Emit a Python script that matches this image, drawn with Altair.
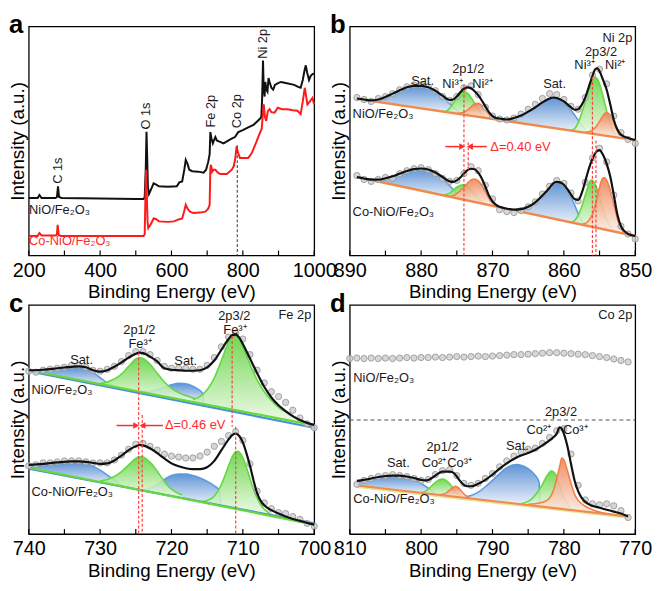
import altair as alt
import pandas as pd

FONT = "Liberation Sans"
W, H = 289, 232
YMAX = 235
INK = "#1a1a1a"
RED = "#ff2a2a"

# ================= (a) survey =================
a_ticks = [200, 300, 400, 500, 600, 700, 800, 900, 1000]
a_labels = [200, 400, 600, 800, 1000]
a_black = [[200,59],[225,59],[230,62],[236,59],[275,59],[279,60],[282,71],[285,60],[292,59],[400,58.5],[500,58],[522,58],[525,60],[528,90],[530,127],[532,100],[534,70],[537,63],[543,68],[550,74],[556,73],[565,71],[590,70.5],[615,71],[622,75],[630,76],[636,88],[640,98],[645,94],[650,88],[658,86.5],[675,86],[690,85],[697,88],[703,96],[707,104],[709,126.5],[712,120],[716,115],[719,118],[723,121.5],[727,118],[733,117],[746,115],[760,118],[770,120],[778,121.5],[787,126.5],[800,128.5],[815,131.5],[830,134],[843,138.5],[850,141],[852,143],[854,160],[856.5,200],[858.5,172],[861,163],[863,178],[866,170],[869,168],[872,182],[875,178],[880,172],[885,170],[890,175],[900,177],[907,178],[920,177],[944,175],[955,173],[962,172],[968,180],[973,190],[976.5,195],[980,188],[985.5,180],[990,184],[995,186],[1000,186.5]]
a_red = [[200,20],[225,20],[230,23],[236,20.5],[276,20.5],[279,22],[281,31.5],[284,21],[290,20],[400,20],[500,20],[522,20],[525,22],[527,60],[529,88],[531,60],[533,35],[535,28],[542,32],[550,38],[556,37.5],[565,35],[590,34.5],[607,35],[620,37],[630,38],[636,46],[640,52],[645,48],[652,45],[662,43.5],[680,44],[695,45],[703,48],[707,52],[709,90],[711,93],[714,86],[718,88],[723,88],[730,85],[737,83.5],[755,83.5],[769,88],[775,92],[779,100],[782.5,112],[786,106],[792,100],[800,100],[815,100],[825,105],[838,116.5],[847,125],[853,130],[855,140],[858.5,155],[862,142],[865.5,138],[870,148],[875,150],[880,147],[889,146.5],[898,151.5],[910,150],[926,150],[940,149],[953,148.5],[962,145],[968,158],[973.5,172],[978,162],[981,155],[988,158],[995,161.5],[1000,155]]
a_peak_text = ["C 1s", "O 1s", "Fe 2p", "Co 2p", "Ni 2p"]
a_peak_x = [281, 530, 710, 784.5, 856.5]
a_peak_y = [87, 143, 148, 148, 217]
a_dash = [[784.5, 113, 0]]
a_left_text = ["NiO/Fe₂O₃", "Co-NiO/Fe₂O₃"]
a_left_x = [201, 201]
a_left_y = [47, 15]
a_left_color = [INK, RED]

# ================= (b) Ni 2p =================
b_ticks = [890, 885, 880, 875, 870, 865, 860, 855, 850]
b_labels = [890, 880, 870, 860, 850]
b_top_base = [[889, 160.7], [850, 118.3]]
b_bot_base = [[889, 80.5], [850, 20]]
b_top_blue1 = [[887,158.5,158.5],[886,159,157.4],[885,162,156.3],[884,165.5,155.3],[883,169,154.2],[882,172,153.1],[881,173.5,152.0],[880,173.5,150.9],[879,172,149.8],[878,168.5,148.7],[877,163,147.6],[876,156,146.6],[875,149,145.5],[874.5,145,144.9]]
b_top_green1 = [[877,147.7,147.6],[876.5,148,147.1],[876,151,146.6],[875.5,156,146.0],[875,162,145.5],[874.5,166.5,144.9],[874,168,144.4],[873.5,166.5,143.9],[873,162,143.3],[872.5,156,142.8],[872,150,142.2],[871.5,145,141.7],[871,141.5,141.1]]
b_top_orange1 = [[875,145.5,145.5],[874,147,144.4],[873.5,149,143.9],[873,152.5,143.3],[872.5,155.5,142.8],[872,156,142.2],[871.5,154,141.7],[871,150,141.1],[870.5,145,140.6],[870,141.5,140.0],[869.5,139.5,139.5]]
b_top_blue2 = [[869,139,138.9],[868,139.5,137.9],[867,141,136.8],[866,143.5,135.7],[865,147.5,134.6],[864,152,133.5],[863,157,132.4],[862,161,131.3],[861.5,162,130.8],[861,161.5,130.3],[860,157.5,129.2],[859,149,128.1],[858,139,127.0],[857.5,134,126.5],[857,129,125.9]]
b_top_green2 = [[859,128.5,128.1],[858.5,130,127.5],[858,136,127.0],[857.5,146,126.5],[857,158,125.9],[856.5,170,125.4],[856,179,124.8],[855.7,183,124.5],[855.3,181,124.1],[855,176,123.7],[854.5,163,123.2],[854,148,122.7],[853.5,135,122.1],[853,126,121.6],[852.5,122,121.0]]
b_top_orange2 = [[857,126.5,125.9],[856.5,127,125.4],[856,128.5,124.8],[855.5,132,124.3],[855,137.5,123.7],[854.5,143.5,123.2],[854,146.5,122.7],[853.5,144,122.1],[853,138,121.6],[852.5,130,121.0],[852,124.5,120.5],[851.5,121,119.9]]
b_bot_blue1 = [[886.5,76.8,76.6],[886,77.5,75.8],[885,79,74.3],[884,81,72.7],[883,84,71.2],[882,86.5,69.6],[881,88.5,68.1],[880,89,66.5],[879,88,65.0],[878,85,63.4],[877,79.5,61.9],[876,71.5,60.3],[875,64,58.8],[874.5,60,58.0],[874,57.2,57.2]]
b_bot_green1 = [[877,62,61.9],[876.5,62.5,61.1],[876,64,60.3],[875.5,67,59.5],[875,70,58.8],[874.5,72,58.0],[874,72.5,57.2],[873.5,71,56.4],[873,67.5,55.7],[872.5,63,54.9],[872,58.5,54.1],[871.5,55,53.3],[871,52.8,52.6]]
b_bot_orange1 = [[876,60.5,60.3],[875.5,61.5,59.5],[875,63.5,58.8],[874.5,66.5,58.0],[874,70,57.2],[873.5,74,56.4],[873,77.5,55.7],[872.5,78.5,54.9],[872,76.5,54.1],[871.5,72,53.3],[871,65.5,52.6],[870.5,58.5,51.8],[870,53.5,51.0],[869.5,50.5,50.2]]
b_bot_blue2 = [[867,46.5,46.4],[866,47,44.8],[865,49.5,43.3],[864,54,41.7],[863,61,40.2],[862,69,38.6],[861.5,73.5,37.8],[861,75,37.1],[860.5,74.5,36.3],[860,72,35.5],[859.5,67,34.7],[859,60,34.0],[858.5,52,33.2],[858,43,32.4],[857.5,36,31.6],[857,32,30.9]]
b_bot_green2 = [[859,34.2,34.0],[858.5,36,33.2],[858,41,32.4],[857.5,50,31.6],[857,62,30.9],[856.5,73,30.1],[856.2,77.5,29.6],[856,77,29.3],[855.5,71,28.5],[855,60,27.8],[854.5,47,27.0],[854,37,26.2],[853.5,30,25.4],[853,25.5,24.7]]
b_bot_orange2 = [[857.5,31.8,31.6],[857,33,30.9],[856.5,36,30.1],[856,42,29.3],[855.5,54,28.5],[855,70,27.8],[854.6,79,27.1],[854.3,80,26.7],[854,77,26.2],[853.5,67,25.4],[853,53,24.7],[852.5,38,23.9],[852,28,23.1],[851.5,23,22.3]]
b_top_fit = [[889,161],[888,160],[887,159],[886,160],[885,162.5],[884,166],[883,169.5],[882,172.5],[881,174],[880,174],[879,172.5],[878,169],[877,164],[876,159.5],[875.5,160],[875,163],[874.5,167.5],[874,171],[873.5,172.5],[873,171.5],[872.5,168.5],[872,164.5],[871.5,159],[871,153],[870.5,147],[870,143],[869.5,141],[869,140.5],[868,139.5],[867,141],[866,143.5],[865,147.5],[864,152],[863,157],[862,161],[861.5,162],[861,161.5],[860,158],[859,152],[858.5,149.5],[858,150],[857.5,154.5],[857,162],[856.5,173],[856,184],[855.6,191],[855.3,192],[855,189],[854.5,180],[854,170],[853.5,155],[853,139],[852.5,129],[852,124],[851,120.5],[850,118.5]]
b_bot_fit = [[889,80.5],[888,79],[887,77.8],[886,77.8],[885,79.2],[884,81.2],[883,84],[882,86.6],[881,88.6],[880,89.2],[879,88.2],[878,85.2],[877,80.5],[876,76],[875.5,75.5],[875,77],[874.5,80],[874,84],[873.5,87.5],[873,89],[872.5,88.5],[872,85],[871.5,79],[871,70.5],[870.5,61.5],[870,55.5],[869.5,52],[869,50],[868,48],[867,47],[866,47.5],[865,50],[864,54.5],[863,61.5],[862,69.5],[861.5,74],[861,75.5],[860.5,75],[860,72.5],[859.5,68],[859,62.5],[858.5,58],[858,57],[857.5,64],[857,76],[856.5,89],[856,99],[855.5,106],[855,108],[854.5,103],[854,94],[853.5,81],[853,62],[852.5,42],[852,30],[851.5,25],[851,22],[850,20]]
b_data_x = list(range(889, 849, -1))
b_top_data = [162,160,158,161,163,166,170,173,175,175,173,169,163,159,163,172,174,165,152,143,140,139,141,145,150,155,161,166,165,160,153,150,162,185,191,176,143,126,119,115]
b_bot_data = [82,78,76,78,80,79,84,87,89,90,88,84,79,76,77,84,91,87,72,58,47,45,44,46,50,55,63,71,77,74,64,56,75,100,110,96,62,30,22,17]
b_dash = [[874.0,175,0],[873.4,116,88],[856.0,183,0],[855.5,118,0]]
b_arrows = [[876.6,874.3,111.7],[870.8,873.1,111.7]]
b_heads = [[874.25,111.7,"triangle-right"],[873.15,111.7,"triangle-left"]]
b_center = [["Sat.",879.8,179],["2p1/2",873.4,191.5],["Ni³⁺",875.6,175.5],["Ni²⁺",871.4,175.5],["Sat.",861.3,176],["2p3/2",854.8,209],["Ni³⁺",857.1,195],["Ni²⁺",852.8,195]]
b_left = [["NiO/Fe₂O₃",889.6,145,INK],["Co-NiO/Fe₂O₃",889.6,45,INK],["Δ=0.40 eV",870.3,111.7,RED]]
b_right = [["Ni 2p",850.4,223]]

# ================= (c) Fe 2p =================
c_ticks = [740, 735, 730, 725, 720, 715, 710, 705, 700]
c_labels = [740, 730, 720, 710, 700]
c_top_green_base = [[740,168],[700,111.5]]
c_top_blue_base = [[740,167],[700,109]]
c_bot_green_base = [[740,68],[700,9.7]]
c_bot_blue_base = [[740,67],[700,11]]
c_top_blue1 = [[740,168.5,168],[738,168.5,165.2],[736,169.5,162.4],[734,170.5,159.5],[733,170.5,158.1],[732,169,156.7],[731,165.5,155.3],[730,160.5,153.9],[729,155,152.5],[728,151.5,151.1]]
c_top_green1 = [[730,154.5,153.9],[729,156,152.5],[728,159,151.1],[727,164,149.6],[726,172,148.2],[725,179.5,146.8],[724.5,181,146.1],[724,180,145.4],[723,174,144.0],[722,165,142.6],[721,156,141.2],[720,149.5,139.8],[719,145,138.3],[718,142,136.9],[717,139.5,135.5],[716,137.5,134.1]]
c_top_blue2 = [[724,146,145.4],[723,146.5,144.0],[722,148,142.6],[721,150.5,141.2],[720,153,139.8],[719,154.5,138.3],[718,154,136.9],[717,151.5,135.5],[716,147,134.1],[715.6,144,133.5],[715.5,133.4,133.4]]
c_top_green2 = [[717,138,135.5],[716,141,134.1],[715,148,132.7],[714,160,131.3],[713,178,129.9],[712,197,128.5],[711.5,203,127.8],[711,203.5,127.0],[710.5,200,126.3],[710,192,125.6],[709,174,124.2],[708,158,122.8],[707,146,121.4],[706,137,120.0],[705,130,118.6],[704,125,117.2],[703,120.5,115.7],[702,117,114.3],[701,114,112.9],[700,112,111.5]]
c_bot_blue1 = [[740,68.5,68.0],[738,70,65.1],[736,71.5,62.2],[734,73,59.3],[733,73,57.8],[732,72,56.3],[731,69.5,54.9],[730,65.5,53.4],[729,60.5,52.0],[728,55.5,50.5],[727,50,49.1]]
c_bot_green1 = [[730,54.5,53.4],[729,56,52.0],[728,59,50.5],[727,64,49.1],[726,71,47.6],[725,77.5,46.1],[724.5,79.5,45.4],[724,79,44.7],[723,73.5,43.2],[722,64.5,41.8],[721,54,40.3],[720,46,38.9],[719,41.5,37.4],[718.5,40,36.7]]
c_bot_blue2 = [[724,45,44.7],[723,47,43.2],[722,51,41.8],[721,56,40.3],[720,60,38.9],[719,61.5,37.4],[718,61.5,35.9],[717,60,34.5],[716,57.5,33.0],[715,54,31.6],[714,49.5,30.1],[713.3,45,29.1],[713.1,29,28.8]]
c_bot_green2 = [[716,33.2,33.0],[715,34.5,31.6],[714.5,36,30.8],[714,39,30.1],[713.5,44,29.4],[713,51,28.6],[712.5,60,27.9],[712,70,27.2],[711.5,79,26.5],[711,84.5,25.7],[710.7,85,25.3],[710.5,84,25.0],[710,78.5,24.3],[709.5,68.5,23.5],[709,57,22.8],[708.5,46,22.1],[708,37,21.4],[707.5,30,20.6],[707,25.5,19.9],[706.5,22.5,19.2],[706,20,18.4],[705,17.5,17.0]]
c_top_fit = [[740,168],[738,168.5],[736,170],[734,171.5],[733,172],[732,171],[731,168],[730,166.5],[729,168],[728,171.5],[727,176],[726,181],[725,185],[724.5,186],[724,185.5],[723,182],[722,177],[721,170],[720,168.5],[719,168],[718,167.5],[717,167.5],[716,168],[715,171],[714,178],[713,189],[712,200],[711.5,204],[711,204.5],[710.5,201.5],[710,195],[709,180],[708,165],[707,151],[706,140],[705,132],[704,126],[703,121],[702,117],[701,114],[700,112]]
c_bot_fit = [[740,71],[738,72],[736,73.5],[734,74.5],[733,74.5],[732,74],[731,73],[730,72],[729,72.5],[728,75.5],[727,80.5],[726,86],[725,90],[724.5,91.3],[724,91],[723,88],[722,83],[721,77.5],[720,72.5],[719,69.5],[718,67.5],[717,66.5],[716,66.5],[715,68.5],[714,75],[713,86],[712,97],[711.5,101.5],[711,103],[710.5,100.5],[710,94],[709.5,83],[709,70],[708.5,55],[708,42],[707.5,34],[707,29.5],[706,24.5],[705,21],[704,18],[703,15.5],[702,13.5],[701,11.5],[700,9.7]]
c_data_x = list(range(740, 699, -1))
c_top_data = [167,166,168,169,170,171,173,173,171,168,167,169,172,177,183,187,187,184,178,172,170,170,170,169,169,173,181,192,202,206,200,184,168,155,146,141,135,127,119,113,109]
c_bot_data = [70,71,73,73,74,75,75,75,74,73,73,73,76,81,87,92,93,90,86,82,80,79,78,78,80,84,90,95,101,105,96,72,44,32,26,22,21,18,15,11,8]
c_dash = [[724.6,186,0],[724.1,122,0],[711.5,203,110],[711.0,110,0]]
c_arrows = [[727.7,725.0,111.3],[721.2,724.0,111.3]]
c_heads = [[724.95,111.3,"triangle-right"],[724.05,111.3,"triangle-left"]]
c_center = [["2p3/2",711.2,224],["Fe³⁺",711.1,209.5],["2p1/2",724.5,209.5],["Fe³⁺",724.4,194.5],["Sat.",732.6,178],["Sat.",718.0,177.5]]
c_left = [["NiO/Fe₂O₃",739.6,148,INK],["Co-NiO/Fe₂O₃",739.6,43,INK],["Δ=0.46 eV",720.9,111.3,RED]]
c_right = [["Fe 2p",700.4,224.5]]

# ================= (d) Co 2p =================
d_ticks = [810, 805, 800, 795, 790, 785, 780, 775, 770]
d_labels = [810, 800, 790, 780, 770]
d_base = [[809,49.8],[771,18]]
d_base2 = [[809,48.3],[771,16.6]]
d_blue1 = [[809,54,49.8],[808,55,48.9],[807,56.5,48.1],[806,58,47.3],[805,59,46.4],[804,59.5,45.6],[803,59.5,44.8],[802,58.5,43.9],[801,56,43.1],[800,52,42.2],[799,47,41.4],[798.5,44,41.0],[798,40.6,40.6]]
d_green1 = [[800,42.5,42.2],[799.5,43.5,41.8],[799,46,41.4],[798.5,49.5,41.0],[798,53,40.6],[797.5,55.5,40.2],[797,56.3,39.7],[796.5,55,39.3],[796,51.5,38.9],[795.5,46.5,38.5],[795,42,38.1],[794.5,39,37.6],[794,37.3,37.2]]
d_orange1 = [[797.5,40.3,40.2],[797,40.8,39.7],[796.5,42,39.3],[796,45,38.9],[795.5,48,38.5],[795.2,49,38.2],[795,48.5,38.1],[794.5,45.5,37.6],[794,41,37.2],[793.5,38,36.8],[793,36.5,36.4]]
d_blue2 = [[794,38,37.2],[793,39.5,36.4],[792,43,35.6],[791,48.5,34.7],[790,55,33.9],[789,62,33.0],[788,68,32.2],[787,71,31.4],[786.5,71.3,31.0],[786,70.5,30.5],[785,67,29.7],[784,60,28.9],[783.5,54,28.4],[783.3,28.3,28.3]]
d_green2 = [[786,31,30.5],[785,33.5,29.7],[784.5,36,29.3],[784,40,28.9],[783.5,45,28.4],[783,51,28.0],[782.5,58,27.6],[782,63.5,27.2],[781.7,64.7,26.9],[781.5,64,26.8],[781,59,26.4],[780.5,48,25.9],[780,38,25.5],[779.5,31,25.1],[779,26,24.7]]
d_orange2 = [[785,30.5,29.7],[784,31,28.9],[783,32.5,28.0],[782.5,34,27.6],[782,37,27.2],[781.5,44,26.8],[781,57,26.4],[780.5,72,25.9],[780.3,78,25.8],[780,76,25.5],[779.5,65,25.1],[779,52,24.7],[778.5,41,24.3],[778,34.5,23.9],[777,28.5,23.0],[776,25,22.2],[775,22.5,21.3],[774,21,20.5],[773,20,19.7],[772,19,18.8],[771,18.2,18.0]]
d_fit = [[809,54.5],[808,55.5],[807,57],[806,58.5],[805,59.5],[804,60],[803,60],[802,59],[801,57.5],[800,55.5],[799.5,55],[799,55.5],[798.5,57.5],[798,60],[797.5,62.5],[797,64],[796.5,64],[796,64],[795.5,63],[795,59],[794.5,54],[794,50.5],[793.5,49],[793,49],[792,51.5],[791,55.5],[790,61],[789,67],[788,72.5],[787,77],[786,80.5],[785,83],[784,86.5],[783,91],[782,96],[781.5,99],[781,103],[780.6,109.5],[780.3,108],[780,103],[779.5,90],[779,72],[778.5,55],[778,44],[777.5,37],[777,33],[776,29],[775,27],[774,25],[773,23],[772,21],[771,18]]
d_top_x = list(range(810, 770, -1))
d_top_data = [180,180.5,180,180.5,180,180.5,180,180.5,181,180.5,181,181,181.5,181,181.5,182,181.5,182,182.5,182,182.5,183,183.5,184,184,184.5,185,185.5,186,186,185.5,185,184.5,184,183,182,181,179.5,178,176.5]
d_bot_x = list(range(809, 770, -1))
d_bot_data = [51,55,57,59,60,61,60,59,57,55,56,61,65,66,60,52,50,52,57,62,69,75,80,84,87,88,93,99,106,108,82,50,35,31,30,31,29,24,17]
d_hline = [[810, 770, 117]]
d_center = [["2p3/2",780.4,125],["Co²⁺",783.5,106.5],["Co³⁺",778.4,106.5],["Sat.",786.5,90],["2p1/2",797.0,89.7],["Co²⁺",798.2,73],["Co³⁺",794.6,73],["Sat.",803.2,73]]
d_left = [["NiO/Fe₂O₃",809.5,159.7,INK],["Co-NiO/Fe₂O₃",809.5,36.3,INK]]
d_right = [["Co 2p",770.4,224.7]]

# ================= styling =================
BLUE = ("#4b86cf", "#eef3fb", "#5b9be0")
GREEN = ("#5fd23c", "#f1fbec", "#62d940")
ORANGE = ("#f07f4f", "#fdf0ea", "#f28048")
BASE_OR = "#f08a4b"


def make_panel(dom, ticks, labels, letter):
    xsc = alt.Scale(domain=dom, nice=False, zero=False)
    ysc = alt.Scale(domain=[0, YMAX], nice=False, zero=False)
    xax = alt.Axis(values=labels, title="Binding Energy (eV)", tickSize=0, labelPadding=5,
                   titlePadding=3, domain=False, grid=False, format="d", labelOverlap=False,
                   labelFlush=False, labelFontSize=20, titleFontSize=19, labelFont=FONT,
                   titleFont=FONT, titleFontWeight="normal", labelColor="black", titleColor="black")
    yax = alt.Axis(title="Intensity (a.u.)", labels=False, ticks=False, domain=False, grid=False,
                   titlePadding=1, minExtent=0, titleFontSize=19, titleFont=FONT,
                   titleFontWeight="normal", titleColor="black")

    def X(f):
        return alt.X(f, type="quantitative", scale=xsc, axis=xax)

    def Y(f):
        return alt.Y(f, type="quantitative", scale=ysc, axis=yax)

    layers = []

    def area(rows, col):
        df = pd.DataFrame(rows, columns=["x", "y", "y2"])
        grad = alt.Gradient(gradient="linear",
                            stops=[alt.GradientStop(color=col[1], offset=0),
                                   alt.GradientStop(color=col[0], offset=1)],
                            x1=1, x2=1, y1=1, y2=0)
        layers.append(alt.Chart(df).mark_area(interpolate="monotone", color=grad, fillOpacity=0.88,
                                              line=alt.OverlayMarkDef(color=col[2], strokeWidth=1.6))
                      .encode(x=X("x"), y=Y("y"), y2="y2"))

    def line(rows, color, width, interp="monotone"):
        df = pd.DataFrame(rows, columns=["x", "y"])
        layers.append(alt.Chart(df).mark_line(color=color, strokeWidth=width, interpolate=interp)
                      .encode(x=X("x"), y=Y("y")))

    def dots(xs, ys):
        df = pd.DataFrame({"x": xs, "y": ys})
        layers.append(alt.Chart(df).mark_point(shape="circle", filled=True, size=40, fill="#cdcdcd",
                                               stroke="#999999", strokeWidth=0.9, opacity=1,
                                               fillOpacity=0.8)
                      .encode(x=X("x"), y=Y("y")))

    def vdash(rows, color, dash=(3, 2)):
        df = pd.DataFrame(rows, columns=["x", "y", "y2"])
        layers.append(alt.Chart(df).mark_rule(color=color, strokeWidth=1.2, strokeDash=list(dash))
                      .encode(x=X("x"), y=Y("y"), y2="y2"))

    def hdash(rows, color, dash=(4, 3)):
        df = pd.DataFrame(rows, columns=["x", "x2", "y"])
        layers.append(alt.Chart(df).mark_rule(color=color, strokeWidth=1.1, strokeDash=list(dash))
                      .encode(x=X("x"), x2="x2", y=Y("y")))

    def arrows(rows, heads):
        df = pd.DataFrame(rows, columns=["x", "x2", "y"])
        layers.append(alt.Chart(df).mark_rule(color=RED, strokeWidth=1.5)
                      .encode(x=X("x"), x2="x2", y=Y("y")))
        dh = pd.DataFrame(heads, columns=["x", "y", "s"])
        layers.append(alt.Chart(dh).mark_point(filled=True, size=45, color=RED, opacity=1)
                      .encode(x=X("x"), y=Y("y"), shape=alt.Shape("s:N", scale=None)))

    def texts(rows, align, size=13, angle=None, with_color=False):
        cols = ["t", "x", "y", "c"] if with_color else ["t", "x", "y"]
        df = pd.DataFrame(rows, columns=cols)
        kw = dict(font=FONT, fontSize=size, align=align, baseline="middle", color=INK)
        if angle is not None:
            kw["angle"] = angle
        enc = dict(x=X("x"), y=Y("y"), text="t:N")
        if with_color:
            enc["color"] = alt.Color("c:N", scale=None)
        layers.append(alt.Chart(df).mark_text(**kw).encode(**enc))

    def finish():
        df = pd.DataFrame({"x": ticks})
        layers.append(alt.Chart(df).mark_rule(color="black", strokeWidth=1.2)
                      .encode(x=X("x"), y=alt.value(H), y2=alt.value(H - 5)))
        layers.append(alt.Chart(pd.DataFrame({"t": [letter]}))
                      .mark_text(font=FONT, fontSize=26, fontWeight="bold", align="left",
                                 baseline="alphabetic", color="black")
                      .encode(x=alt.value(-20), y=alt.value(7), text="t:N"))
        return alt.layer(*layers).properties(width=W, height=H)

    return dict(area=area, line=line, dots=dots, vdash=vdash, hdash=hdash, arrows=arrows,
                texts=texts, finish=finish)


# ---- panel a ----
f = make_panel([200, 1000], a_ticks, a_labels, "a")
f["line"](a_black, "#111111", 2.0, interp="linear")
f["line"](a_red, "#ff1a1a", 2.0, interp="linear")
f["vdash"](a_dash, "#555555")
f["texts"]([[t, x, y] for t, x, y in zip(a_peak_text, a_peak_x, a_peak_y)], "center", angle=270)
f["texts"]([[t, x, y, c] for t, x, y, c in zip(a_left_text, a_left_x, a_left_y, a_left_color)], "left",
           with_color=True)
panel_a = f["finish"]()

# ---- panel b ----
f = make_panel([890, 850], b_ticks, b_labels, "b")
for rows, col in [(b_top_blue1, BLUE), (b_top_blue2, BLUE), (b_top_green1, GREEN), (b_top_green2, GREEN),
                  (b_top_orange1, ORANGE), (b_top_orange2, ORANGE),
                  (b_bot_blue1, BLUE), (b_bot_blue2, BLUE), (b_bot_green1, GREEN), (b_bot_green2, GREEN),
                  (b_bot_orange1, ORANGE), (b_bot_orange2, ORANGE)]:
    f["area"](rows, col)
f["line"](b_top_base, BASE_OR, 2.4, interp="linear")
f["line"](b_bot_base, BASE_OR, 2.4, interp="linear")
f["dots"](b_data_x, b_top_data)
f["dots"](b_data_x, b_bot_data)
f["line"](b_top_fit, "#111111", 2.2)
f["line"](b_bot_fit, "#111111", 2.2)
f["vdash"](b_dash, "#ff4040")
f["arrows"](b_arrows, b_heads)
f["texts"](b_center, "center")
f["texts"](b_left, "left", with_color=True)
f["texts"](b_right, "right")
panel_b = f["finish"]()

# ---- panel c ----
f = make_panel([740, 700], c_ticks, c_labels, "c")
for rows, col in [(c_top_blue1, BLUE), (c_top_blue2, BLUE), (c_top_green1, GREEN), (c_top_green2, GREEN),
                  (c_bot_blue1, BLUE), (c_bot_blue2, BLUE), (c_bot_green1, GREEN), (c_bot_green2, GREEN)]:
    f["area"](rows, col)
f["line"](c_top_blue_base, "#4a90d9", 2.2, interp="linear")
f["line"](c_top_green_base, "#66d93a", 2.2, interp="linear")
f["line"](c_bot_blue_base, "#4a90d9", 2.2, interp="linear")
f["line"](c_bot_green_base, "#66d93a", 2.2, interp="linear")
f["dots"](c_data_x, c_top_data)
f["dots"](c_data_x, c_bot_data)
f["line"](c_top_fit, "#111111", 2.2)
f["line"](c_bot_fit, "#111111", 2.2)
f["vdash"](c_dash, "#ff4040")
f["arrows"](c_arrows, c_heads)
f["texts"](c_center, "center")
f["texts"](c_left, "left", with_color=True)
f["texts"](c_right, "right")
panel_c = f["finish"]()

# ---- panel d ----
f = make_panel([810, 770], d_ticks, d_labels, "d")
for rows, col in [(d_blue1, BLUE), (d_blue2, BLUE), (d_green1, GREEN), (d_green2, GREEN),
                  (d_orange1, ORANGE), (d_orange2, ORANGE)]:
    f["area"](rows, col)
f["line"](d_base2, "#e6e29a", 2.0, interp="linear")
f["line"](d_base, BASE_OR, 2.2, interp="linear")
f["dots"](d_top_x, d_top_data)
f["dots"](d_bot_x, d_bot_data)
f["line"](d_fit, "#111111", 2.2)
f["hdash"](d_hline, "#555555")
f["texts"](d_center, "center")
f["texts"](d_left, "left", with_color=True)
f["texts"](d_right, "right")
panel_d = f["finish"]()

chart = alt.concat(panel_a, panel_b, panel_c, panel_d, columns=2,
                   spacing={"row": 50, "column": 36}, bounds="flush").properties(
    padding={"left": 0, "top": 0, "right": 0, "bottom": 0},
    background="white"
).configure_view(stroke="black", strokeWidth=1.3)

chart.save("out.html", embed_options={"renderer": "svg", "actions": False})
